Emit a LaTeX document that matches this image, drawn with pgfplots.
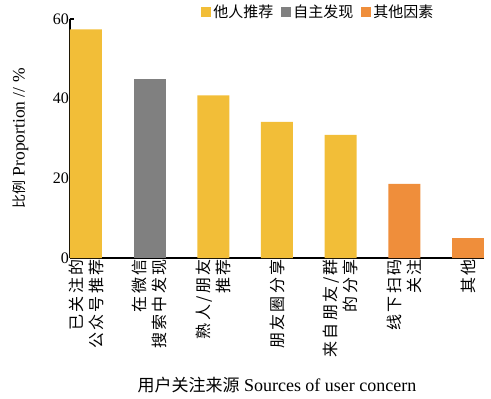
\documentclass[border=0pt]{standalone}
\usepackage{pgfplots}
\pgfplotsset{compat=1.18}
\usepackage{fontspec}
\setmainfont{Liberation Serif}
\newfontfamily\cjk{Noto Sans CJK SC}
\newfontfamily\cjkwide[LetterSpace=15]{Noto Sans CJK SC}
\definecolor{cyel}{HTML}{F2BE38}
\definecolor{cgry}{HTML}{808080}
\definecolor{corg}{HTML}{EF8E3B}
\begin{document}
\begin{tikzpicture}
\path[use as bounding box] (-70pt,-141pt) rectangle (421pt,258pt);
\begin{axis}[
  at={(0pt,0pt)}, anchor=south west,
  scale only axis, width=414pt, height=239pt,
  xmin=-0.25, xmax=6.25, ymin=0, ymax=60,
  axis x line*=bottom, axis y line*=left,
  axis line style={-, line width=1.3pt, black},
  ytick={0,20,40,60},
  tick align=inside, major tick length=4pt,
  ytick style={line width=1.2pt, black},
  xtick={0,1,2,3,4,5,6},
  xtick style={draw=none},
  xticklabels={{已关注的\\公众号推荐},{在微信\\搜索中发现},{熟人/朋友\\推荐},{朋友圈分享},{来自朋友/群\\的分享},{线下扫码\\关注},{其他}},
  xticklabel style={rotate=90, anchor=east, align=right, font=\fontsize{16}{20}\cjkwide, inner sep=1pt},
  yticklabel style={font=\fontsize{16}{16}\selectfont, inner sep=1pt},
  /pgf/number format/assume math mode=true,
  xlabel={{\fontsize{17}{17}\cjk 用户关注来源} Sources of user concern},
  xlabel style={font=\fontsize{18}{18}\selectfont, at={(rel axis cs:0.5,0)}, anchor=base, yshift=-133pt},
  ylabel={{\fontsize{14}{14}\cjk 比例} Proportion // \%},
  ylabel style={font=\fontsize{17.5}{17.5}\selectfont},
  ylabel shift=20pt,
  every axis plot/.append style={ybar, bar width=32pt, bar shift=0pt, draw=none},
  legend style={at={(rel axis cs:0.89,1.03)}, anchor=east, draw=none, fill=none, legend columns=-1, font=\fontsize{15}{15}\cjk, /tikz/every even column/.append style={column sep=6pt}},
  legend image code/.code={\fill[#1] (0pt,-5pt) rectangle (10pt,5pt);},
]
\addplot[fill=cyel] coordinates {(0,57.4) (2,40.8) (3,34.2) (4,30.9)};
\addplot[fill=cgry] coordinates {(1,45.0)};
\addplot[fill=corg] coordinates {(5,18.6) (6,5.0)};
\legend{他人推荐,自主发现,其他因素}
\end{axis}
\end{tikzpicture}
\end{document}
